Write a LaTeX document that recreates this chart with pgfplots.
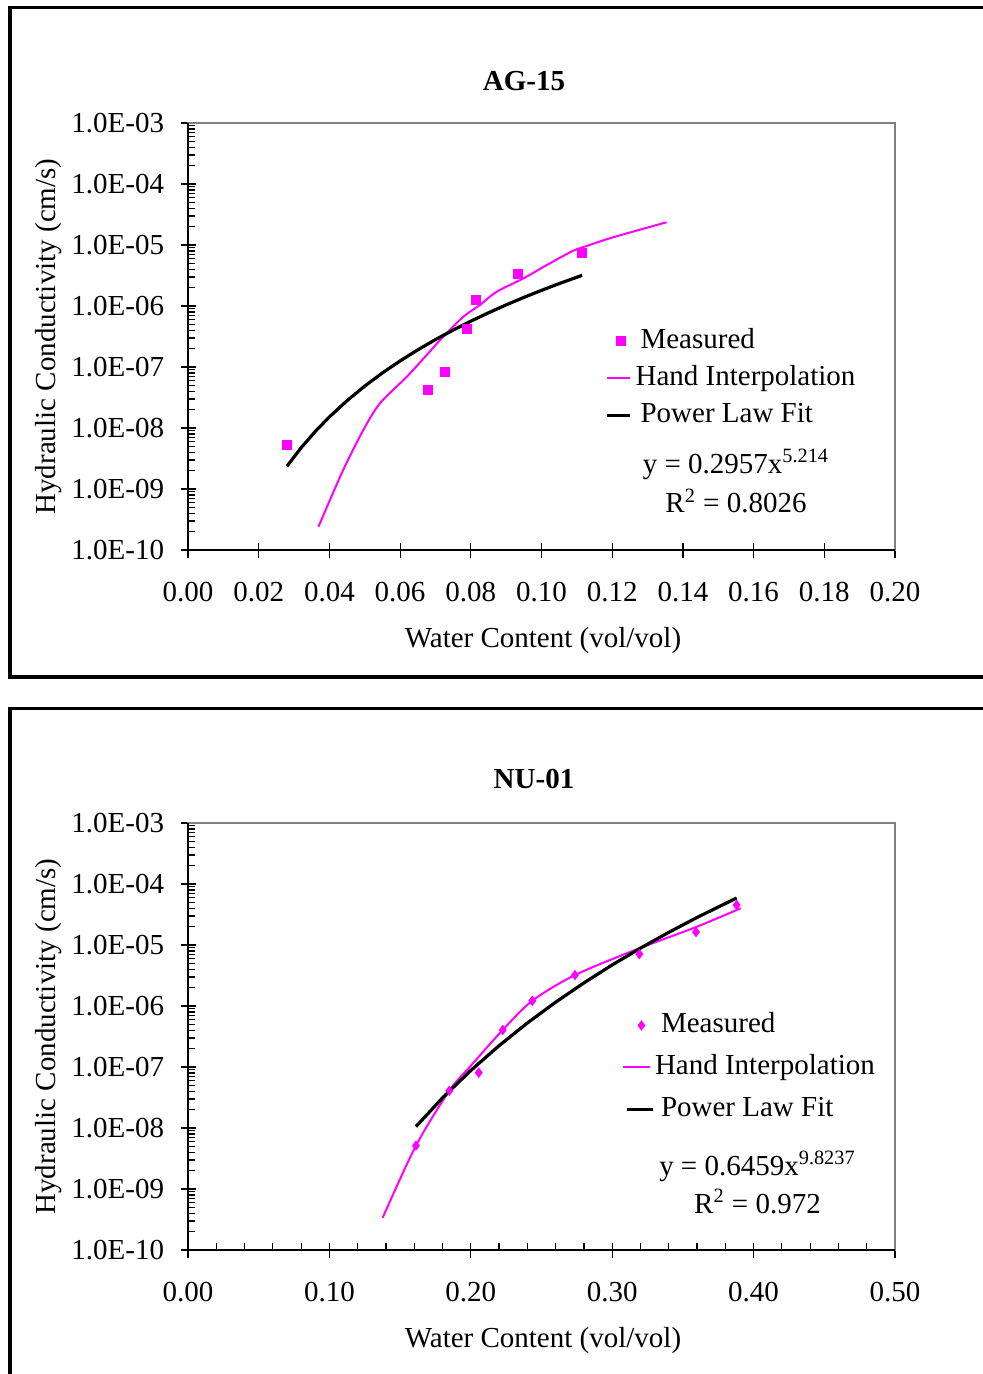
\documentclass[border=0pt]{standalone}
\usepackage{fontspec}
\setmainfont{Liberation Serif}
\usepackage{pgfplots}
\pgfplotsset{compat=1.18}

\definecolor{kmag}{RGB}{255,0,255}
\newcommand\chartfont{\fontsize{14.5}{17}\selectfont}

\begin{document}
\begin{tikzpicture}
\useasboundingbox (0,0) rectangle (491pt,-687pt);

% panel frames
\draw[line width=1.75pt] (500pt,-3.75pt) -- (5pt,-3.75pt) -- (5pt,-338.5pt) -- (500pt,-338.5pt);
\draw[line width=1.75pt] (500pt,-354.25pt) -- (5pt,-354.25pt) -- (5pt,-700pt);

% ---------------- AG-15 ----------------
\begin{axis}[at={(94pt,-275pt)}, anchor=south west,
  scale only axis, width=353.5pt, height=213.5pt,
  ymode=log, ymin=1e-10, ymax=1e-3,
  ytick={1e-10,1e-9,1e-8,1e-7,1e-6,1e-5,1e-4,1e-3},
  yticklabels={1.0E-10,1.0E-09,1.0E-08,1.0E-07,1.0E-06,1.0E-05,1.0E-04,1.0E-03},
  xmin=0, xmax=0.2,
  xtick={0,0.02,0.04,0.06,0.08,0.10,0.12,0.14,0.16,0.18,0.20},
  xticklabels={0.00,0.02,0.04,0.06,0.08,0.10,0.12,0.14,0.16,0.18,0.20},
  tick pos=left, tick align=center,
  major tick length=7.5pt, minor tick length=3.5pt,
  tick style={black, line width=0.6pt},
  minor y tick style={xshift=1.75pt},
  axis line style={gray, line width=0.8pt},
  xticklabel style={font=\chartfont, inner sep=0pt, yshift=-12pt},
  yticklabel style={font=\chartfont, inner sep=0pt, xshift=-8pt},
  title={AG-15},
  title style={font=\chartfont\bfseries, anchor=center, at={(axis description cs:0.4752,1.0703)}},
  xlabel={Water Content (vol/vol)},
  ylabel={Hydraulic Conductivity (cm/s)},
  xlabel style={font=\chartfont, at={(axis description cs:0.5021,-0.2125)}, anchor=center},
  ylabel style={font=\chartfont, at={(axis description cs:-0.1966,0.5)}, anchor=center},
  clip=false,
  legend cell align=left,
  legend style={draw=none, fill=none, font=\chartfont, anchor=north west,
    at={(axis description cs:0.5898,0.5228)}, row sep=4.5pt,
    inner sep=0pt, column sep=2pt,
    nodes={inner sep=0pt, text height=10.5pt, text depth=3.5pt}},
]
\draw[black, line width=0.8pt] (rel axis cs:0,1) -- (rel axis cs:0,0) -- (rel axis cs:1,0);

\addplot[only marks, mark=square*, mark size=2.3pt, color=kmag,
  legend image code/.code={\fill[kmag] (4.7pt,-2.3pt) rectangle (9.3pt,2.3pt);}]
  coordinates {
  (0.0280,5.26e-9) (0.0679,4.2e-8) (0.0727,8.3e-8) (0.0789,4.2e-7)
  (0.0815,1.25e-6) (0.0934,3.35e-6) (0.1115,7.4e-6)
  };
\addlegendentry{\hspace{2.5pt}Measured}

\addplot[kmag, line width=1pt, smooth, tension=0.5, no markers,
  legend image code/.code={\draw[kmag, line width=1pt] (0pt,0pt) -- (11.5pt,0pt);}]
  coordinates {
  (0.0369,2.41e-10) (0.0439,2.05e-9) (0.0496,9.27e-9) (0.0543,2.54e-8)
  (0.0619,6.93e-8) (0.0675,1.57e-7) (0.0722,3.14e-7) (0.0779,6.68e-7)
  (0.0826,1.04e-6) (0.0873,1.71e-6) (0.0949,2.84e-6) (0.1015,4.70e-6)
  (0.1090,8.07e-6) (0.1128,9.64e-6) (0.1203,1.34e-5) (0.1354,2.36e-5)
  };
\addlegendentry{Hand Interpolation}

\addplot[black, line width=1.6pt, no markers,
  legend image code/.code={\draw[black, line width=1.6pt] (0pt,0pt) -- (11.5pt,0pt);}]
  coordinates {
  (0.028,2.367e-9) (0.032,4.75e-9) (0.036,8.78e-9) (0.040,1.520e-8)
  (0.045,2.81e-8) (0.050,4.87e-8) (0.055,8.00e-8) (0.060,1.259e-7)
  (0.065,1.911e-7) (0.070,2.812e-7) (0.075,4.03e-7) (0.080,5.64e-7)
  (0.085,7.74e-7) (0.090,1.043e-6) (0.095,1.382e-6) (0.100,1.806e-6)
  (0.105,2.331e-6) (0.1115,3.186e-6)
  };
\addlegendentry{\hspace{2.5pt}Power Law Fit}

\node[anchor=base, font=\chartfont] at (axis description cs:0.7751,0.1803)
  {y = 0.2957x\textsuperscript{5.214}};
\node[anchor=base, font=\chartfont] at (axis description cs:0.7751,0.0867)
  {R\textsuperscript{2} = 0.8026};
\end{axis}

% ---------------- NU-01 ----------------
\begin{axis}[at={(94pt,-625pt)}, anchor=south west,
  scale only axis, width=353.5pt, height=213.5pt,
  ymode=log, ymin=1e-10, ymax=1e-3,
  ytick={1e-10,1e-9,1e-8,1e-7,1e-6,1e-5,1e-4,1e-3},
  yticklabels={1.0E-10,1.0E-09,1.0E-08,1.0E-07,1.0E-06,1.0E-05,1.0E-04,1.0E-03},
  xmin=0, xmax=0.5,
  xtick={0,0.1,0.2,0.3,0.4,0.5},
  xticklabels={0.00,0.10,0.20,0.30,0.40,0.50},
  minor x tick num=4,
  tick pos=left, tick align=center,
  major tick length=7.5pt, minor tick length=3.5pt,
  tick style={black, line width=0.6pt},
  minor y tick style={xshift=1.75pt},
  minor x tick style={yshift=1.75pt},
  axis line style={gray, line width=0.8pt},
  xticklabel style={font=\chartfont, inner sep=0pt, yshift=-12pt},
  yticklabel style={font=\chartfont, inner sep=0pt, xshift=-8pt},
  title={NU-01},
  title style={font=\chartfont\bfseries, anchor=center, at={(axis description cs:0.4894,1.0740)}},
  xlabel={Water Content (vol/vol)},
  ylabel={Hydraulic Conductivity (cm/s)},
  xlabel style={font=\chartfont, at={(axis description cs:0.5021,-0.2110)}, anchor=center},
  ylabel style={font=\chartfont, at={(axis description cs:-0.1966,0.5)}, anchor=center},
  clip=false,
  legend cell align=left,
  legend style={draw=none, fill=none, font=\chartfont, anchor=north west,
    at={(axis description cs:0.6139,0.5597)}, row sep=7pt,
    inner sep=0pt, column sep=0pt,
    nodes={inner sep=0pt, text height=10.5pt, text depth=3.5pt}},
]
\draw[black, line width=0.8pt] (rel axis cs:0,1) -- (rel axis cs:0,0) -- (rel axis cs:1,0);

\addplot[only marks, mark=diamond*, mark size=2.3pt, color=kmag,
  legend image code/.code={\fill[kmag] (9pt,-2.3pt) -- (10.7pt,0pt) -- (9pt,2.3pt) -- (7.3pt,0pt) -- cycle;}]
  coordinates {
  (0.1612,5.13e-9) (0.1848,4.08e-8) (0.2056,8.07e-8) (0.2226,4.05e-7)
  (0.2435,1.22e-6) (0.2737,3.22e-6) (0.3192,7.11e-6) (0.3593,1.63e-5)
  (0.3880,4.53e-5)
  };
\addlegendentry{\hspace{3pt}Measured}

\addplot[kmag, line width=1pt, smooth, tension=0.5, no markers,
  legend image code/.code={\draw[kmag, line width=1pt] (0pt,0pt) -- (13.5pt,0pt);}]
  coordinates {
  (0.1377,3.39e-10) (0.1612,5.13e-9) (0.1848,4.08e-8) (0.1994,1.01e-7)
  (0.2226,4.05e-7) (0.2435,1.22e-6) (0.2737,3.22e-6) (0.3192,8.83e-6)
  (0.3593,1.97e-5) (0.3909,4.00e-5)
  };
\addlegendentry{Hand Interpolation}

\addplot[black, line width=1.6pt, no markers,
  legend image code/.code={\draw[black, line width=1.6pt] (2pt,0pt) -- (15pt,0pt);}]
  coordinates {
  (0.1612,1.055e-8) (0.18,3.12e-8) (0.20,8.78e-8) (0.22,2.24e-7)
  (0.24,5.27e-7) (0.26,1.156e-6) (0.28,2.394e-6) (0.30,4.72e-6)
  (0.32,8.89e-6) (0.34,1.613e-5) (0.36,2.83e-5) (0.388,5.90e-5)
  };
\addlegendentry{\hspace{3pt}Power Law Fit}

\node[anchor=base, font=\chartfont] at (axis description cs:0.8055,0.1756)
  {y = 0.6459x\textsuperscript{9.8237}};
\node[anchor=base, font=\chartfont] at (axis description cs:0.8055,0.0867)
  {R\textsuperscript{2} = 0.972};
\end{axis}
\end{tikzpicture}
\end{document}
